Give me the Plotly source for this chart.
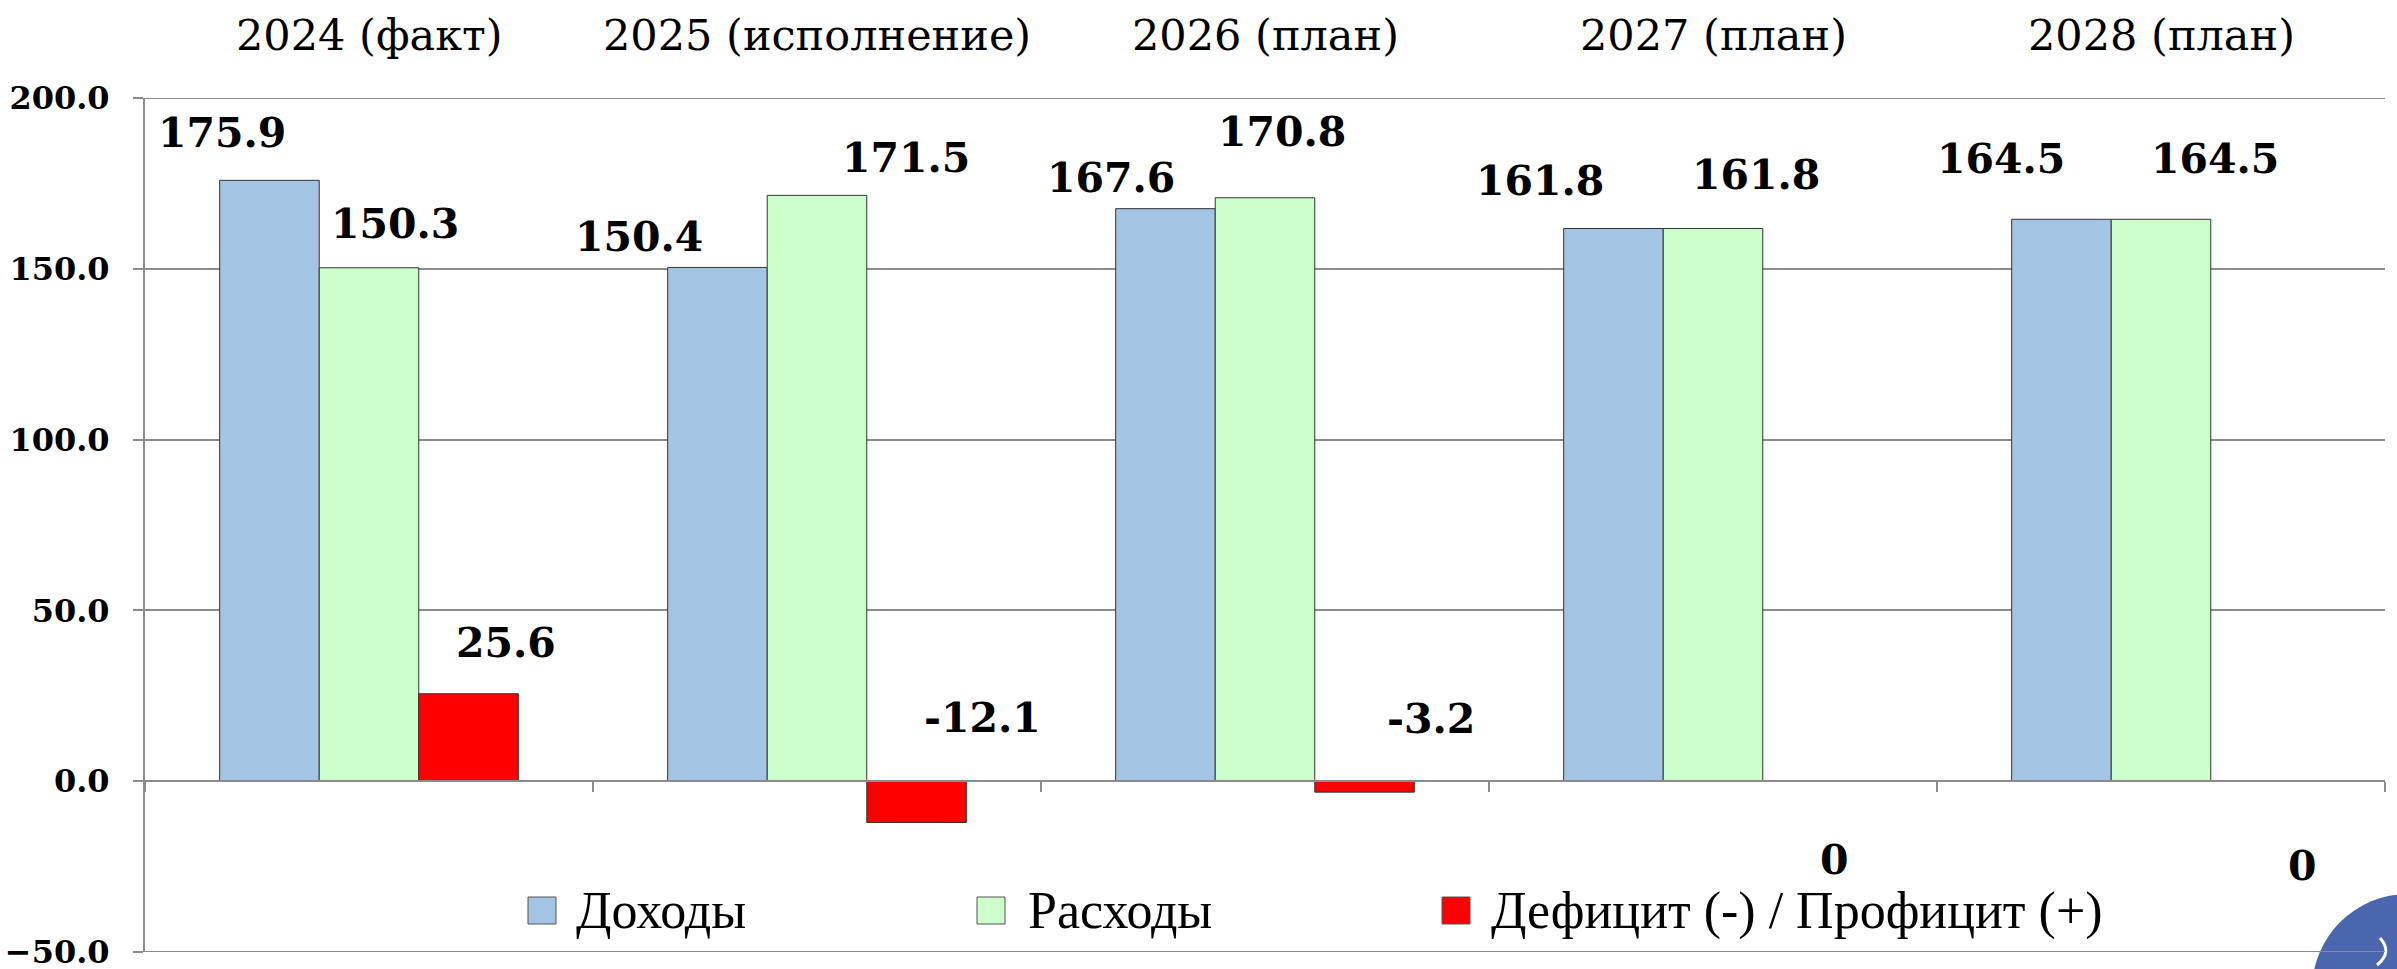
import plotly.graph_objects as go

# ---------------- data ----------------
categories = ["2024 (факт)", "2025 (исполнение)", "2026 (план)", "2027 (план)", "2028 (план)"]
revenues = [175.9, 150.4, 167.6, 161.8, 164.5]
expenses = [150.3, 171.5, 170.8, 161.8, 164.5]
balance = [25.6, -12.1, -3.2, 0, 0]
series_names = ["Доходы", "Расходы", "Дефицит (-) / Профицит (+)"]
y_ticks = [-50, 0, 50, 100, 150, 200]

# ---------------- style ----------------
W, H = 2397, 969
ML, MR, MT, MB = 145, 12, 98, 17
PW, PH = W - ML - MR, H - MT - MB
colors = ["#A3C4E2", "#CCFFCC", "#FF0000"]
grid_col = "#8c8c8c"
serif = "DejaVu Serif"
legend_font = "Liberation Serif"

# data-label placement (manually dragged in the original): x shift px, y offset in data units
label_dx = [[-47, -78, -54, -73, -60], [26, 89, 17, 43, 54], [37, 66, 66, 22, 42]]
label_dy = [[13.8, 8.8, 9.1, 14.0, 17.6], [12.9, 11.0, 19.3, 15.8, 17.6], [14.9, 30.7, 21.3, -23.1, -24.9]]
bar_offsets = [-2 / 9, 0, 2 / 9]

# legend placement (pixels)
leg_sq_x = [528, 977, 1442]
leg_txt_x = [574, 1026, 1489]
leg_y_top, leg_y_bot = 897, 924


def px_x(x):
    return (x - ML) / PW


def px_y(y):
    return (H - MB - y) / PH


series = [revenues, expenses, balance]

fig = go.Figure()
for name, vals, col in zip(series_names, series, colors):
    fig.add_trace(go.Bar(
        x=categories, y=vals, name=name,
        marker=dict(color=col, line=dict(color="#333333", width=1)),
        showlegend=False,
    ))

annotations = []
# category labels at top
for i, c in enumerate(categories):
    annotations.append(dict(
        x=i, xref="x", y=1, yref="paper", yshift=63, yanchor="middle",
        text=c, showarrow=False, font=dict(family=serif, size=43, color="black"),
    ))

# data labels
for s, vals in enumerate(series):
    for i, v in enumerate(vals):
        txt = "0" if v == 0 else f"{v:.1f}"
        annotations.append(dict(
            x=i + bar_offsets[s], xref="x", y=v + label_dy[s][i], yref="y",
            xshift=label_dx[s][i], yanchor="middle", xanchor="center",
            text=f"<b>{txt}</b>", showarrow=False,
            font=dict(family=serif, size=41, color="black"),
        ))

shapes = []
# decorative slide element, bottom-right corner
shapes.append(dict(type="circle", xref="paper", yref="paper",
                   x0=px_x(2312), x1=px_x(2504), y0=px_y(1086), y1=px_y(894),
                   fillcolor="#4a66ad", line=dict(width=0), layer="below"))
shapes.append(dict(type="path", xref="paper", yref="paper",
                   path=(f"M{px_x(2380)},{px_y(938)} Q{px_x(2393)},{px_y(952)} {px_x(2377)},{px_y(965)}"),
                   line=dict(color="white", width=3)))
# top and bottom grid lines (at the range edges)
for yv in (y_ticks[0], y_ticks[-1]):
    shapes.append(dict(type="line", xref="paper", yref="y", x0=0, x1=1, y0=yv, y1=yv,
                       line=dict(color=grid_col, width=2), layer="above"))
# legend
for k in range(3):
    shapes.append(dict(type="rect", xref="paper", yref="paper",
                       x0=px_x(leg_sq_x[k]), x1=px_x(leg_sq_x[k] + 28),
                       y0=px_y(leg_y_bot), y1=px_y(leg_y_top),
                       fillcolor=colors[k], line=dict(color="#555555", width=1)))
    annotations.append(dict(
        x=px_x(leg_txt_x[k]), xref="paper", y=px_y((leg_y_top + leg_y_bot) / 2), yref="paper",
        xanchor="left", yanchor="middle", text=series_names[k], showarrow=False,
        font=dict(family=legend_font, size=52, color="black"),
    ))

fig.update_layout(
    width=W, height=H,
    margin=dict(l=ML, r=MR, t=MT, b=MB, pad=0, autoexpand=False),
    paper_bgcolor="white", plot_bgcolor="rgba(0,0,0,0)",
    barmode="group", bargap=1 / 3, bargroupgap=0,
    annotations=annotations, shapes=shapes,
    xaxis=dict(
        type="category", anchor="free", position=0.2, side="bottom",
        showticklabels=False, showgrid=False, showline=True, linecolor=grid_col, linewidth=2,
        ticks="outside", tickson="boundaries", ticklen=10, tickwidth=2, tickcolor=grid_col,
        range=[-0.5, 4.5], zeroline=False, automargin=False,
    ),
    yaxis=dict(
        range=[-50, 200], tickvals=y_ticks, tickformat=".1f",
        showgrid=True, gridcolor=grid_col, gridwidth=2,
        showline=True, linecolor=grid_col, linewidth=2,
        ticks="outside", ticklen=10, tickwidth=2, tickcolor=grid_col,
        zeroline=False, ticklabelstandoff=17, automargin=False, ticklabeloverflow="allow",
        tickfont=dict(family=serif, size=32, color="black", weight="bold"),
    ),
)

fig.write_html("out.html", config={"displayModeBar": False},
               post_script="document.body.style.margin='0px';")
